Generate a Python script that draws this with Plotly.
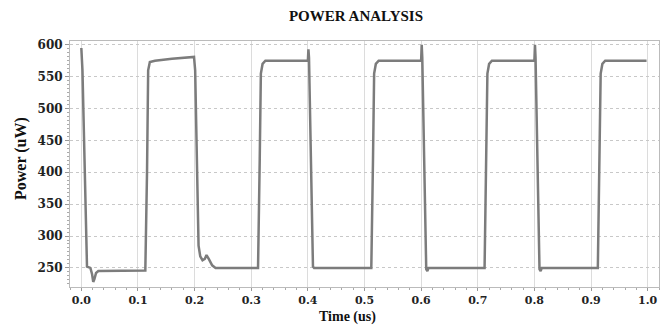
import plotly.graph_objects as go

# Data (time in us, power in uW)
time_us = [
    0.000, 0.002, 0.010, 0.016, 0.019, 0.021, 0.023, 0.026, 0.030, 0.060, 0.113,
    0.116, 0.118, 0.121, 0.130, 0.160, 0.199,
    0.201, 0.204, 0.207, 0.210, 0.214, 0.218, 0.221, 0.225, 0.231, 0.237, 0.312,
    0.315, 0.317, 0.320, 0.325, 0.400,
    0.401, 0.402, 0.406, 0.409, 0.411, 0.512,
    0.515, 0.517, 0.520, 0.525, 0.600,
    0.601, 0.602, 0.606, 0.609, 0.611, 0.613, 0.712,
    0.715, 0.717, 0.720, 0.725, 0.800,
    0.801, 0.802, 0.806, 0.809, 0.811, 0.813, 0.912,
    0.915, 0.917, 0.920, 0.925, 0.998,
]
power_uw = [
    595, 560, 252, 250, 240, 228, 232, 242, 245, 245, 246,
    400, 560, 573, 575, 578, 581,
    560, 420, 285, 268, 262, 264, 270, 264, 254, 250, 250,
    420, 555, 570, 575, 575,
    593, 580, 400, 252, 250, 250,
    420, 555, 570, 575, 575,
    600, 580, 400, 248, 245, 250, 250,
    420, 555, 570, 575, 575,
    600, 580, 400, 248, 245, 250, 250,
    420, 555, 570, 575, 575,
]

x_ticks = [0.0, 0.1, 0.2, 0.3, 0.4, 0.5, 0.6, 0.7, 0.8, 0.9, 1.0]
x_tick_labels = ["0.0", "0.1", "0.2", "0.3", "0.4", "0.5", "0.6", "0.7", "0.8", "0.9", "1.0"]
y_ticks = [250, 300, 350, 400, 450, 500, 550, 600]
y_tick_labels = ["250", "300", "350", "400", "450", "500", "550", "600"]

FONT = "DejaVu Serif"
TFONT = "Liberation Serif"

fig = go.Figure()
fig.add_trace(go.Scatter(
    x=time_us, y=power_uw, mode="lines",
    line=dict(color="#7c7c7c", width=2.5),
    showlegend=False, hoverinfo="skip",
))

fig.update_layout(
    width=665, height=326,
    margin=dict(l=70, r=6, t=41, b=39),
    paper_bgcolor="white", plot_bgcolor="white",
    title=dict(text="<b>POWER ANALYSIS</b>", x=356 / 665, xref="container", xanchor="center",
               y=1 - 16 / 326, yref="container", yanchor="middle",
               font=dict(family=TFONT, size=15, color="#111")),
    font=dict(family=FONT, color="#222"),
    annotations=[
        dict(text="<b>Time (us)</b>", xref="paper", yref="paper",
             x=(347 - 70) / (659 - 70), y=-(317 - 287) / (287 - 41),
             xanchor="center", yanchor="middle", showarrow=False,
             font=dict(family=TFONT, size=14, color="#111")),
        dict(text="<b>Power (uW)</b>", xref="paper", yref="paper", textangle=-90,
             x=-(70 - 21) / (659 - 70), y=(287 - 159) / (287 - 41),
             xanchor="center", yanchor="middle", showarrow=False,
             font=dict(family=TFONT, size=16, color="#111")),
    ],
)

fig.update_xaxes(
    range=[-0.02, 1.02],
    tickvals=x_ticks, ticktext=["<b>%s</b>" % t for t in x_tick_labels],
    tickfont=dict(family=FONT, size=11, color="#222"),
    ticks="outside", ticklen=3, tickcolor="#999",
    showline=True, linecolor="#bbb", linewidth=1, mirror=True,
    showgrid=True, gridcolor="#dcdcdc", gridwidth=1,
    minor=dict(dtick=0.02, tick0=0, ticks="outside", ticklen=2, tickcolor="#aaa", showgrid=False),
    zeroline=False,
    automargin=False,
)
fig.update_yaxes(
    range=[220, 606],
    tickvals=y_ticks, ticktext=["<b>%s</b>" % t for t in y_tick_labels],
    tickfont=dict(family=FONT, size=12, color="#222"),
    ticks="outside", ticklen=4, tickcolor="#999",
    showline=True, linecolor="#bbb", linewidth=1, mirror=True,
    showgrid=True, gridcolor="#c8c8c8", gridwidth=1, griddash="dot",
    minor=dict(dtick=6.25, tick0=250, ticks="outside", ticklen=2, tickcolor="#aaa", showgrid=False),
    zeroline=False,
    automargin=False,
)

fig.write_html(
    "out.html",
    config={"displayModeBar": False},
    post_script="document.body.style.margin='0';document.body.style.padding='0';",
)
